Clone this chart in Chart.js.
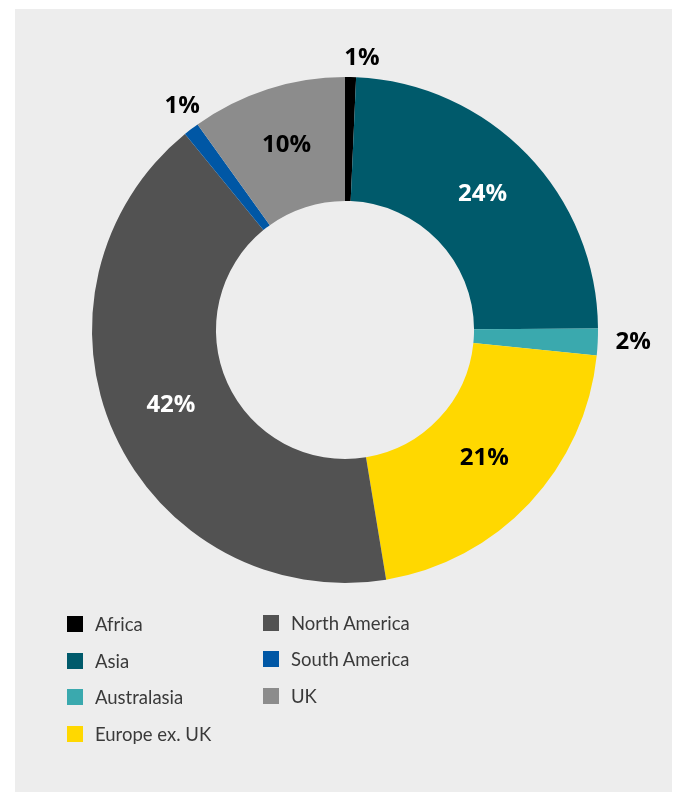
<!DOCTYPE html>
<html>
<head>
<meta charset="utf-8">
<script src="https://cdn.jsdelivr.net/npm/chart.js@4.4.0/dist/chart.umd.min.js"></script>
<style>
  html, body { margin: 0; padding: 0; background: #ffffff; }
  body { width: 681px; height: 794px; position: relative; overflow: hidden; }
  #panel { position: absolute; left: 15px; top: 9px; width: 657px; height: 783px; background: #ededed; }
  #chartBox { position: absolute; left: 25px; top: 20px; width: 640px; height: 620px; }
  #legend { position: absolute; left: 67px; top: 606px; display: grid; grid-template-rows: repeat(4, 36.5px);
            grid-auto-flow: column; grid-template-columns: 196px 200px; font-family: Lato, "Open Sans", sans-serif;
            font-weight: 400; font-size: 18.5px; color: #3a3a3a; }
  .item { display: flex; align-items: center; }
  .item.c2 { margin-top: -3px; }
  .sw { width: 16px; height: 16px; margin-right: 12px; flex: none; }
</style>
</head>
<body>
<div id="panel"></div>
<div id="chartBox"><canvas id="donut__Chart" width="640" height="620"></canvas></div>
<div id="legend"></div>
<script>
// Regions and their shares
const regions = ['Africa', 'Asia', 'Australasia', 'Europe ex. UK', 'North America', 'South America', 'UK'];
const shares = [0.7, 24.2, 1.7, 20.8, 41.7, 1.0, 9.9];
const shareLabels = ['1%', '24%', '2%', '21%', '42%', '1%', '10%'];

const colors = ['#000000', '#005a6b', '#3aa9ae', '#ffd800', '#525252', '#0057a5', '#8c8c8c'];
const labelColors = ['#000', '#fff', '#000', '#000', '#fff', '#000', '#000'];

// Legend built from the same arrays, two columns
const legendEl = document.getElementById('legend');
regions.forEach((r, i) => {
  const div = document.createElement('div');
  div.className = i >= 4 ? 'item c2' : 'item';
  div.innerHTML = '<span class="sw" style="background:' + colors[i] + '"></span><span>' + r + '</span>';
  legendEl.appendChild(div);
});

// Draws the percentage labels, small slices go outside the ring
const sliceLabels = {
  id: 'sliceLabels',
  afterDatasetsDraw(chart) {
    const ctx = chart.ctx;
    const meta = chart.getDatasetMeta(0);
    ctx.save();
    ctx.font = 'bold 24px "Open Sans", sans-serif';
    ctx.textAlign = 'center';
    ctx.textBaseline = 'middle';
    meta.data.forEach((arc, i) => {
      let x, y;
      if (shares[i] < 3) {
        const mid = (arc.startAngle + arc.endAngle) / 2;
        const r = arc.outerRadius + 20 + Math.abs(Math.cos(mid)) * 15;
        const s = Math.abs(Math.sin(mid));
        x = arc.x + Math.cos(mid) * r + 11 * s;
        y = arc.y + Math.sin(mid) * r + 3 * s - 2;
      } else {
        const p = arc.tooltipPosition();
        x = p.x;
        y = p.y - 3;
      }
      ctx.fillStyle = labelColors[i];
      ctx.fillText(shareLabels[i], x, y);
    });
    ctx.restore();
  }
};

const ctx = document.getElementById('donut__Chart').getContext('2d');
const donutChart = new Chart(ctx, {
  type: 'doughnut',
  data: {
    labels: regions,
    datasets: [{
      data: shares,
      backgroundColor: colors,
      borderWidth: 0,
    }],
  },
  options: {
    responsive: false,
    animation: false,
    cutout: '51%',
    layout: { padding: { left: 67, right: 67, top: 57, bottom: 57 } },
    plugins: {
      legend: { display: false },
      tooltip: { enabled: false },
    },
  },
  plugins: [sliceLabels],
});
</script>
</body>
</html>
